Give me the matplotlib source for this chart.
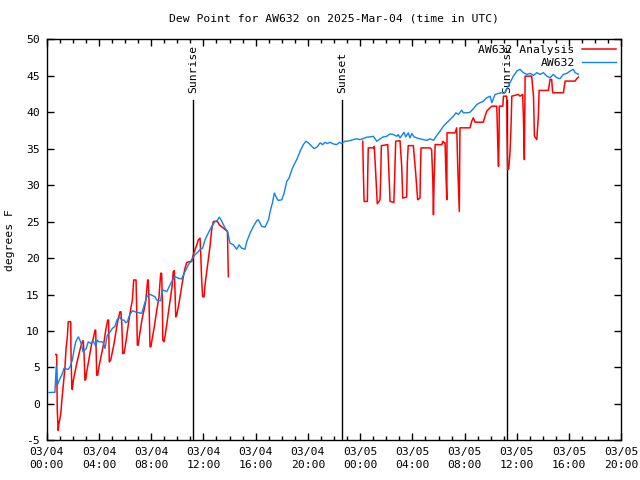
import matplotlib
matplotlib.use("Agg")
import matplotlib.pyplot as plt
import numpy as np

# hours since 2025-03-04 00:00 UTC
obs_t = [0.17, 0.63, 0.73, 0.81, 0.96, 1.20, 1.33, 1.63, 1.79, 1.96, 2.09, 2.22, 2.42, 2.54, 2.68, 2.78,
         2.91, 3.03, 3.18, 3.37, 3.57, 3.75, 3.87, 4.00, 4.22, 4.34, 4.46, 4.64, 4.77, 5.03, 5.21, 5.40,
         5.61, 5.75, 5.92, 6.05, 6.17, 6.35, 6.56, 6.76, 7.27, 7.66, 7.91, 8.29, 8.42, 8.73, 8.80, 8.92,
         9.19, 9.44, 9.57, 9.83, 10.08, 10.33, 10.59, 10.84, 11.10, 11.35, 11.61, 11.79, 11.94, 12.12,
         12.37, 12.63, 12.89, 13.06, 13.22, 13.41, 13.66, 13.86, 14.03, 14.29, 14.55, 14.73, 14.93, 15.18,
         15.32, 15.57, 15.82, 16.09, 16.21, 16.47, 16.72, 16.98, 17.11, 17.28, 17.43, 17.61, 17.73, 18.00,
         18.18, 18.38, 18.56, 18.77, 18.94, 19.14, 19.40, 19.65, 19.85, 20.03, 20.29, 20.47, 20.71, 20.93,
         21.13, 21.31, 21.48, 21.69, 21.94, 22.20, 22.41, 22.59, 22.84, 22.97, 23.22, 23.48, 23.73, 23.99,
         24.24, 24.50, 24.76, 25.01, 25.14, 25.27, 25.52, 25.77, 26.03, 26.29, 26.54, 26.80, 26.92, 27.05,
         27.18, 27.36, 27.49, 27.68, 27.81, 27.95, 28.13, 28.33, 28.58, 28.84, 29.10, 29.35, 29.61, 29.86,
         30.11, 30.37, 30.63, 30.88, 31.14, 31.34, 31.51, 31.77, 31.90, 32.16, 32.41, 32.66, 32.93, 33.17,
         33.43, 33.69, 33.95, 34.08, 34.33, 34.59, 34.84, 35.02, 35.22, 35.47, 35.73, 35.99, 36.24, 36.50,
         36.76, 37.01, 37.27, 37.52, 37.77, 38.03, 38.29, 38.54, 38.79, 39.05, 39.30, 39.56, 39.82, 40.07,
         40.32, 40.46, 40.71]
obs_v = [1.56, 1.6, 5.17, 2.56, 3.25, 4.17, 4.9, 4.72, 5.08, 6.0, 7.37, 8.52, 9.2, 8.75, 8.06, 7.14,
         7.37, 7.61, 8.52, 8.3, 8.61, 7.92, 8.75, 8.52, 8.52, 8.38, 7.61, 9.44, 9.67, 10.36, 10.58, 11.6,
         11.87, 11.5, 11.5, 11.13, 11.27, 12.19, 12.78, 12.64, 12.42, 14.7, 15.03, 14.7, 14.25, 14.15, 15.17, 15.62,
         15.39, 16.31, 16.77, 17.45, 17.23, 17.14, 18.14, 19.06, 19.75, 20.44, 20.89, 21.26, 21.36, 22.5,
         23.42, 24.33, 25.02, 25.15, 25.62, 25.02, 24.11, 23.56, 22.05, 21.81, 21.22, 21.81, 21.36, 21.22,
         22.27, 23.42, 24.33, 25.15, 25.25, 24.33, 24.25, 25.25, 26.39, 27.55, 28.92, 28.23, 27.9, 28.0,
         28.92, 30.52, 30.98, 32.12, 32.81, 33.5, 34.64, 35.56, 36.02, 35.8, 35.33, 35.01, 35.25, 35.8,
         35.56, 35.88, 35.7, 35.88, 35.66, 35.56, 35.88, 35.7, 36.02, 36.02, 36.11, 36.25, 36.35, 36.25,
         36.39, 36.57, 36.62, 36.7, 36.35, 36.02, 36.35, 36.62, 36.7, 37.03, 36.94, 36.7, 36.94, 36.48,
         36.8, 37.25, 36.62, 37.17, 36.48, 37.08, 36.62, 36.48, 36.35, 36.25, 36.15, 36.35, 36.15, 36.8,
         37.39, 38.08, 38.55, 39.0, 39.45, 39.92, 39.69, 40.28, 39.92, 39.92, 40.0, 40.47, 41.06, 41.3,
         41.52, 41.98, 42.2, 41.3, 42.44, 42.58, 42.67, 42.58, 43.13, 44.05, 44.95, 45.64, 45.88, 45.42,
         45.19, 45.33, 45.05, 45.42, 45.19, 45.42, 44.95, 44.73, 45.19, 44.73, 44.6, 45.19, 45.33, 45.64,
         45.88, 45.42, 45.19]

ana1_t = [0.69, 0.76, 0.81, 0.88, 0.94, 1.08, 1.15, 1.23, 1.33, 1.40, 1.48, 1.57, 1.65, 1.84, 1.86, 1.92,
          1.96, 2.04, 2.17, 2.30, 2.42, 2.54, 2.68, 2.76, 2.80, 2.86, 2.93, 2.99, 3.06, 3.18, 3.31, 3.45,
          3.57, 3.70, 3.75, 3.83, 3.90, 4.00, 4.13, 4.26, 4.39, 4.52, 4.67, 4.74, 4.79, 4.90, 5.03, 5.16,
          5.28, 5.43, 5.61, 5.68, 5.75, 5.82, 5.92, 6.05, 6.17, 6.30, 6.44, 6.56, 6.66, 6.84, 6.89, 6.94,
          7.01, 7.09, 7.19, 7.31, 7.45, 7.58, 7.66, 7.73, 7.78, 7.83, 7.91, 7.98, 8.08, 8.22, 8.35, 8.47,
          8.60, 8.67, 8.73, 8.80, 8.85, 8.89, 8.99, 9.11, 9.24, 9.36, 9.49, 9.61, 9.69, 9.77, 9.83, 9.88,
          9.96, 10.08, 10.21, 10.33, 10.46, 10.59, 10.72, 10.92, 11.10, 11.22, 11.35, 11.49, 11.61, 11.74,
          11.79, 11.87, 11.94, 12.05, 12.12, 12.25, 12.37, 12.50, 12.63, 12.76, 13.07, 13.22, 13.53, 13.84,
          13.87, 13.91]
ana1_v = [6.78, 6.78, -0.88, -3.63, -2.7, -1.33, 0.27, 1.87, 3.7, 5.08, 7.61, 8.98, 11.27, 11.27, 6.92, 2.33,
          1.97, 3.25, 4.39, 5.55, 6.45, 7.37, 8.3, 8.65, 8.65, 6.92, 3.25, 3.35, 4.39, 5.55, 6.92, 8.3,
          8.98, 10.12, 10.12, 3.94, 3.94, 5.08, 6.23, 7.37, 8.52, 10.12, 11.5, 11.5, 5.77, 6.0, 7.14, 8.3,
          9.67, 11.27, 12.64, 12.64, 11.05, 6.92, 6.92, 8.3, 9.89, 11.5, 13.11, 14.25, 17.0, 17.0, 12.88, 8.06,
          8.06, 9.2, 10.36, 11.73, 12.87, 14.02, 15.62, 17.0, 17.0, 14.25, 7.83, 7.83, 8.98, 10.36, 11.95, 13.33,
          14.7, 16.55, 17.92, 17.92, 14.25, 8.75, 8.52, 9.89, 11.5, 13.11, 14.7, 16.31, 18.14, 18.28, 15.17, 11.95,
          12.19, 13.33, 14.7, 16.08, 17.45, 18.61, 19.38, 19.52, 19.52, 20.44, 21.12, 21.81, 22.5, 22.73,
          20.67, 16.77, 14.7, 14.7, 16.31, 18.14, 19.75, 21.58, 23.88, 25.02, 25.02, 24.56, 24.11, 23.64,
          20.67, 17.45]

ana2_t = [24.20, 24.24, 24.30, 24.55, 24.58, 24.62, 25.06, 25.08, 25.19, 25.31, 25.44, 25.52, 25.58, 25.62,
          26.11, 26.20, 26.29, 26.58, 26.65, 26.72, 27.05, 27.18, 27.26, 27.56, 27.61, 27.68, 28.07, 28.25,
          28.40, 28.58, 28.61, 28.66, 29.35, 29.47, 29.56, 29.61, 29.66, 29.74, 30.25, 30.33, 30.42, 30.50,
          30.55, 30.63, 30.65, 31.26, 31.39, 31.47, 31.59, 31.64, 32.41, 32.54, 32.66, 32.80, 33.43, 33.56,
          33.69, 33.81, 34.08, 34.46, 34.53, 34.59, 34.63, 34.65, 34.92, 34.97, 35.22, 35.24, 35.29, 35.37,
          35.47, 35.55, 35.61, 36.11, 36.24, 36.44, 36.50, 36.57, 36.63, 37.13, 37.27, 37.34, 37.52, 37.64,
          37.70, 38.41, 38.54, 38.66, 38.74, 39.56, 39.69, 40.46, 40.58, 40.71]
ana2_v = [36.02, 31.89, 27.77, 27.77, 31.67, 35.11, 35.11, 35.33, 31.67, 27.45, 27.77, 28.0, 31.67, 35.42,
          35.56, 31.67, 27.77, 27.63, 31.67, 36.02, 36.11, 32.58, 28.23, 28.37, 33.05, 35.42, 35.42, 31.67,
          28.0, 28.23, 31.67, 35.11, 35.11, 34.88, 30.75, 25.94, 30.75, 35.56, 35.56, 36.02, 35.8, 35.8,
          32.58, 28.0, 37.17, 37.17, 37.86, 32.58, 26.39, 37.86, 37.86, 38.77, 39.23, 38.63, 38.63, 39.45,
          40.14, 40.38, 40.83, 40.83, 35.8, 32.58, 36.25, 40.83, 40.83, 42.2, 42.2, 37.17, 32.12, 32.22,
          34.42, 38.08, 42.2, 42.44, 42.2, 42.44, 39.23, 33.5, 44.95, 44.95, 42.2, 36.7, 36.25, 39.45,
          42.99, 42.99, 44.5, 44.5, 42.67, 42.67, 44.27, 44.27, 44.6, 44.82]

events = [("Sunrise", 11.23), ("Sunset", 22.59), ("Sunrise", 35.26)]
event_top = 41.7

xtick_hours = [0, 4, 8, 12, 16, 20, 24, 28, 32, 36, 40, 44]
xtick_labels = ["03/04\n00:00", "03/04\n04:00", "03/04\n08:00", "03/04\n12:00", "03/04\n16:00",
                "03/04\n20:00", "03/05\n00:00", "03/05\n04:00", "03/05\n08:00", "03/05\n12:00",
                "03/05\n16:00", "03/05\n20:00"]
yticks = [-5, 0, 5, 10, 15, 20, 25, 30, 35, 40, 45, 50]

FONT = "DejaVu Sans Mono"
FS = 8.2
RED = "#ff0000"
BLUE = "#0f82f0"

fig = plt.figure(figsize=(6.4, 4.8), dpi=100)
ax = fig.add_axes([46.7/640, 1 - 440.4/480, (621.4 - 46.7)/640, (440.4 - 39.3)/480])

for name, t in events:
    ax.plot([t, t], [-5, event_top], color="black", lw=1.0, zorder=1)
    ax.text(t, event_top + 0.9, name, rotation=90, ha="center", va="bottom",
            fontsize=FS, family=FONT)

ax.plot(ana1_t, ana1_v, color=RED, lw=1.1, label="AW632 Analysis", zorder=2)
ax.plot(ana2_t, ana2_v, color=RED, lw=1.1, zorder=2)
ax.plot(obs_t, obs_v, color=BLUE, lw=1.0, label="AW632", zorder=3)

ax.set_xlim(0, 44)
ax.set_ylim(-5, 50)
ax.set_xticks(xtick_hours)
ax.set_xticklabels(xtick_labels, fontsize=FS, family=FONT, linespacing=1.35)
ax.set_xticks(np.arange(0, 45, 1), minor=True)
ax.set_yticks(yticks)
ax.set_yticklabels([str(v) for v in yticks], fontsize=FS, family=FONT)
ax.tick_params(which="both", direction="in", top=True, right=True, width=1.0, pad=5)
ax.tick_params(which="major", length=5)
ax.tick_params(which="minor", length=3)
for s in ax.spines.values():
    s.set_linewidth(1.0)

ax.set_ylabel("degrees F", fontsize=FS, family=FONT, labelpad=8)
ax.set_title("Dew Point for AW632 on 2025-Mar-04 (time in UTC)", fontsize=FS, family=FONT, pad=13)

leg = ax.legend(loc="upper right", frameon=False, prop={"family": FONT, "size": FS},
                markerfirst=False, handlelength=3.0, handletextpad=0.6,
                borderaxespad=0.1, labelspacing=0.3)
for txt in leg.get_texts():
    txt.set_ha("right")

fig.savefig("out.png", dpi=100)
